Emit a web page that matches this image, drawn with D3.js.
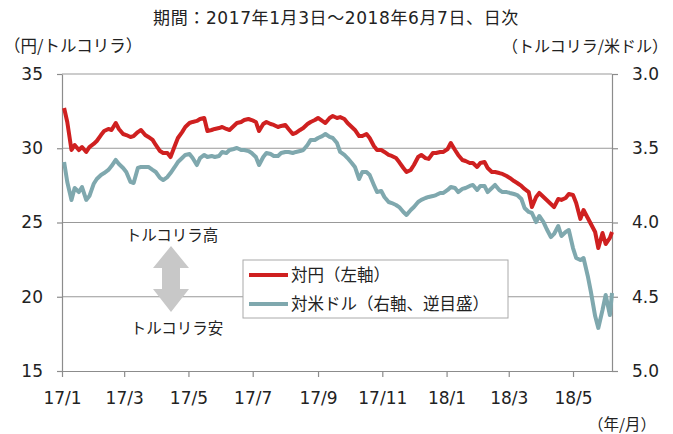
<!DOCTYPE html>
<html>
<head>
<meta charset="utf-8">
<script src="https://cdn.jsdelivr.net/npm/d3@7"></script>
<style>
  body { margin: 0; background: #fff; }
  svg { display: block; }
  text { fill: #222; }
</style>
</head>
<body>
<div id="wrapper"></div>
<script>
// data (Tue/Fri samples)
const dates = [
  '2017-01-03','2017-01-06','2017-01-10','2017-01-13','2017-01-17','2017-01-20','2017-01-24','2017-01-27','2017-01-31',
  '2017-02-03','2017-02-07','2017-02-10','2017-02-14','2017-02-17','2017-02-21','2017-02-24','2017-02-28',
  '2017-03-03','2017-03-07','2017-03-10','2017-03-14','2017-03-17','2017-03-21','2017-03-24','2017-03-28','2017-03-31',
  '2017-04-04','2017-04-07','2017-04-11','2017-04-14','2017-04-18','2017-04-21','2017-04-25','2017-04-28',
  '2017-05-02','2017-05-05','2017-05-09','2017-05-12','2017-05-16','2017-05-19','2017-05-23','2017-05-26','2017-05-30',
  '2017-06-02','2017-06-06','2017-06-09','2017-06-13','2017-06-16','2017-06-20','2017-06-23','2017-06-27','2017-06-30',
  '2017-07-04','2017-07-07','2017-07-11','2017-07-14','2017-07-18','2017-07-21','2017-07-25','2017-07-28',
  '2017-08-01','2017-08-04','2017-08-08','2017-08-11','2017-08-15','2017-08-18','2017-08-22','2017-08-25','2017-08-29',
  '2017-09-01','2017-09-05','2017-09-08','2017-09-12','2017-09-15','2017-09-19','2017-09-22','2017-09-26','2017-09-29',
  '2017-10-03','2017-10-06','2017-10-10','2017-10-13','2017-10-17','2017-10-20','2017-10-24','2017-10-27','2017-10-31',
  '2017-11-03','2017-11-07','2017-11-10','2017-11-14','2017-11-17','2017-11-21','2017-11-24','2017-11-28',
  '2017-12-01','2017-12-05','2017-12-08','2017-12-12','2017-12-15','2017-12-19','2017-12-22','2017-12-26','2017-12-29',
  '2018-01-02','2018-01-05','2018-01-09','2018-01-12','2018-01-16','2018-01-19','2018-01-23','2018-01-26','2018-01-30',
  '2018-02-02','2018-02-06','2018-02-09','2018-02-13','2018-02-16','2018-02-20','2018-02-23','2018-02-27',
  '2018-03-02','2018-03-06','2018-03-09','2018-03-13','2018-03-16','2018-03-20','2018-03-23','2018-03-27','2018-03-30',
  '2018-04-03','2018-04-06','2018-04-10','2018-04-13','2018-04-17','2018-04-20','2018-04-24','2018-04-27',
  '2018-05-01','2018-05-04','2018-05-08','2018-05-11','2018-05-15','2018-05-18','2018-05-22','2018-05-25','2018-05-29',
  '2018-06-01','2018-06-05','2018-06-07'
]

// 円/トルコリラ (left axis)
const tryJpy = [
  32.71,31.77,29.88,30.22,29.88,30.08,29.75,30.08,30.29,
  30.49,30.89,31.16,31.30,31.23,31.70,31.30,30.96,
  30.89,30.76,30.82,31.09,31.23,30.89,30.76,30.56,30.22,
  29.81,29.68,29.68,29.41,30.15,30.69,31.09,31.43,
  31.70,31.77,31.84,31.97,32.04,31.16,31.23,31.30,31.36,
  31.43,31.30,31.23,31.50,31.70,31.77,31.90,31.97,31.90,
  31.77,31.16,31.63,31.77,31.63,31.57,31.43,31.50,
  31.57,31.30,30.96,31.03,31.23,31.36,31.63,31.77,31.90,
  32.04,31.84,31.70,32.04,32.17,32.04,32.10,31.97,31.70,
  31.43,31.23,30.82,30.82,30.96,30.69,30.15,29.88,29.88,
  29.75,29.55,29.48,29.34,29.07,28.67,28.40,28.54,
  28.87,29.41,29.55,29.34,29.28,29.68,29.68,29.75,29.75,
  29.95,30.35,29.88,29.55,29.21,29.14,29.01,29.01,28.74,
  29.01,29.07,28.67,28.40,28.40,28.33,28.27,28.13,
  28.00,27.79,27.66,27.46,27.26,27.05,26.04,26.72,26.99,
  26.72,26.52,26.25,26.04,26.58,26.52,26.65,26.92,
  26.85,26.31,25.24,25.84,25.30,24.90,24.36,23.28,24.29,
  23.55,23.96,24.36
]

// トルコリラ/米ドル (right axis, reversed)
const usdTry = [
  3.593,3.727,3.848,3.768,3.795,3.761,3.848,3.822,3.741,
  3.707,3.680,3.667,3.646,3.620,3.579,3.606,3.633,
  3.660,3.727,3.734,3.633,3.626,3.626,3.626,3.646,3.660,
  3.700,3.714,3.694,3.667,3.626,3.593,3.566,3.545,
  3.539,3.566,3.613,3.566,3.545,3.559,3.552,3.559,3.552,
  3.525,3.532,3.512,3.505,3.498,3.512,3.512,3.519,3.532,
  3.559,3.613,3.559,3.532,3.539,3.552,3.552,3.532,
  3.525,3.525,3.532,3.525,3.519,3.512,3.478,3.444,3.444,
  3.431,3.418,3.404,3.424,3.431,3.465,3.525,3.545,3.566,
  3.599,3.626,3.707,3.660,3.660,3.680,3.747,3.795,3.788,
  3.828,3.862,3.869,3.882,3.896,3.929,3.949,3.916,
  3.896,3.862,3.848,3.835,3.828,3.822,3.815,3.801,3.801,
  3.781,3.761,3.768,3.795,3.774,3.768,3.754,3.747,3.781,
  3.754,3.754,3.795,3.768,3.747,3.781,3.795,3.795,
  3.801,3.808,3.815,3.842,3.902,3.929,3.936,3.997,3.956,
  3.997,4.044,4.098,4.077,4.024,4.091,4.064,4.051,
  4.172,4.239,4.253,4.239,4.360,4.468,4.630,4.710,4.589,
  4.488,4.623,4.475
]

const leftTicks = [15, 20, 25, 30, 35]
const rightTicks = [3.0, 3.5, 4.0, 4.5, 5.0]
const seriesNames = ['対円（左軸）', '対米ドル（右軸、逆目盛）']
const seriesColors = ['#cf2020', '#7fa8ae']

const parse = d3.timeParse('%Y-%m-%d')
const data = dates.map((d, i) => ({ date: parse(d), jpy: tryJpy[i], usd: usdTry[i] }))

const dms = {
    width: 673,
    height: 434,
    margins: { top: 74, right: 61, bottom: 63, left: 62 }
}
dms.boundedWidth = dms.width - dms.margins.left - dms.margins.right
dms.boundedHeight = dms.height - dms.margins.top - dms.margins.bottom

const svg = d3.select('#wrapper')
    .append('svg')
        .attr('width', dms.width)
        .attr('height', dms.height)

const bounds = svg.append('g')
    .attr('transform', `translate(${dms.margins.left},${dms.margins.top})`)

// scales
const xScale = d3.scaleTime()
    .domain([parse('2017-01-01'), parse('2018-06-07')])
    .range([0, dms.boundedWidth])

const yLeft = d3.scaleLinear()
    .domain([15, 35])
    .range([dms.boundedHeight, 0])

const yRight = d3.scaleLinear()
    .domain([3.0, 5.0])
    .range([0, dms.boundedHeight])

const tickFont = '"DejaVu Sans", Verdana, sans-serif'
const jpFont = '"Noto Sans CJK JP", "Noto Sans", sans-serif'
const mixFont = '"DejaVu Sans", "Noto Sans CJK JP", sans-serif'

// gridlines
bounds.append('g')
    .selectAll('line')
    .data(leftTicks.filter(t => t > 15))
    .join('line')
        .attr('x1', 0)
        .attr('x2', dms.boundedWidth)
        .attr('y1', d => yLeft(d))
        .attr('y2', d => yLeft(d))
        .attr('stroke', '#999')
        .attr('stroke-width', 1)

// axes
const xAxis = bounds.append('g')
    .attr('transform', `translate(0,${dms.boundedHeight})`)
    .call(d3.axisBottom(xScale)
        .ticks(d3.timeMonth.every(2))
        .tickFormat(d3.timeFormat('%y/%-m'))
        .tickSize(6)
        .tickSizeOuter(0)
        .tickPadding(15))

const yAxisLeft = bounds.append('g')
    .call(d3.axisLeft(yLeft)
        .tickValues(leftTicks)
        .tickSize(5)
        .tickSizeOuter(0)
        .tickPadding(14))

const yAxisRight = bounds.append('g')
    .attr('transform', `translate(${dms.boundedWidth},0)`)
    .call(d3.axisRight(yRight)
        .tickValues(rightTicks)
        .tickFormat(d3.format('.1f'))
        .tickSize(6)
        .tickSizeOuter(0)
        .tickPadding(14))

;[xAxis, yAxisLeft, yAxisRight].forEach(a => {
    a.selectAll('path, line').attr('stroke', '#8c8c8c').attr('stroke-width', 1.2)
    a.selectAll('text')
        .style('font-family', tickFont)
        .style('font-size', '17px')
        .attr('fill', '#222')
})

// lines
const usdLine = d3.line()
    .x(d => xScale(d.date))
    .y(d => yRight(d.usd))
const jpyLine = d3.line()
    .x(d => xScale(d.date))
    .y(d => yLeft(d.jpy))

bounds.append('path')
    .attr('d', usdLine(data))
    .attr('fill', 'none')
    .attr('stroke', seriesColors[1])
    .attr('stroke-width', 4)
    .attr('stroke-linejoin', 'round')

bounds.append('path')
    .attr('d', jpyLine(data))
    .attr('fill', 'none')
    .attr('stroke', seriesColors[0])
    .attr('stroke-width', 4)
    .attr('stroke-linejoin', 'round')

// legend
const legend = svg.append('g').attr('transform', 'translate(243,260)')
legend.append('rect')
    .attr('width', 265)
    .attr('height', 58)
    .attr('fill', '#fff')
    .attr('stroke', '#aaa')
legend.selectAll('g.item')
    .data(seriesNames)
    .join('g')
        .attr('class', 'item')
        .attr('transform', (d, i) => `translate(6,${15 + i * 29})`)
        .each(function (d, i) {
            const g = d3.select(this)
            g.append('line')
                .attr('x1', 0).attr('x2', 39)
                .attr('stroke', seriesColors[i])
                .attr('stroke-width', 4)
            g.append('text')
                .attr('x', 42)
                .attr('dy', '0.36em')
                .style('font-family', jpFont)
                .style('font-size', '16.5px')
                .text(d)
        })

// arrow annotation
const arrow = svg.append('g').attr('transform', 'translate(171,0)')
arrow.append('path')
    .attr('d', 'M0,246 L18,268 L9,268 L9,289 L18,289 L0,312 L-18,289 L-9,289 L-9,268 L-18,268 Z')
    .attr('fill', '#c8c8c8')
svg.append('text')
    .attr('x', 172).attr('y', 235).attr('dy', '0.36em')
    .attr('text-anchor', 'middle')
    .style('font-family', jpFont).style('font-size', '15.5px')
    .text('トルコリラ高')
svg.append('text')
    .attr('x', 177).attr('y', 328).attr('dy', '0.36em')
    .attr('text-anchor', 'middle')
    .style('font-family', jpFont).style('font-size', '15.5px')
    .text('トルコリラ安')

// titles and units
svg.append('text')
    .attr('x', 336).attr('y', 18).attr('dy', '0.36em')
    .attr('text-anchor', 'middle')
    .style('font-family', mixFont).style('font-size', '17px')
    .style('letter-spacing', '0.6px')
    .text('期間：2017年1月3日～2018年6月7日、日次')
svg.append('text')
    .attr('x', 4).attr('y', 46).attr('dy', '0.36em')
    .style('font-family', jpFont).style('font-size', '16.5px')
    .text('（円/トルコリラ）')
svg.append('text')
    .attr('x', 668).attr('y', 46).attr('dy', '0.36em')
    .attr('text-anchor', 'end')
    .style('font-family', jpFont).style('font-size', '16px')
    .text('（トルコリラ/米ドル）')
svg.append('text')
    .attr('x', 656).attr('y', 424).attr('dy', '0.36em')
    .attr('text-anchor', 'end')
    .style('font-family', jpFont).style('font-size', '15.5px')
    .text('（年/月）')
</script>
</body>
</html>
